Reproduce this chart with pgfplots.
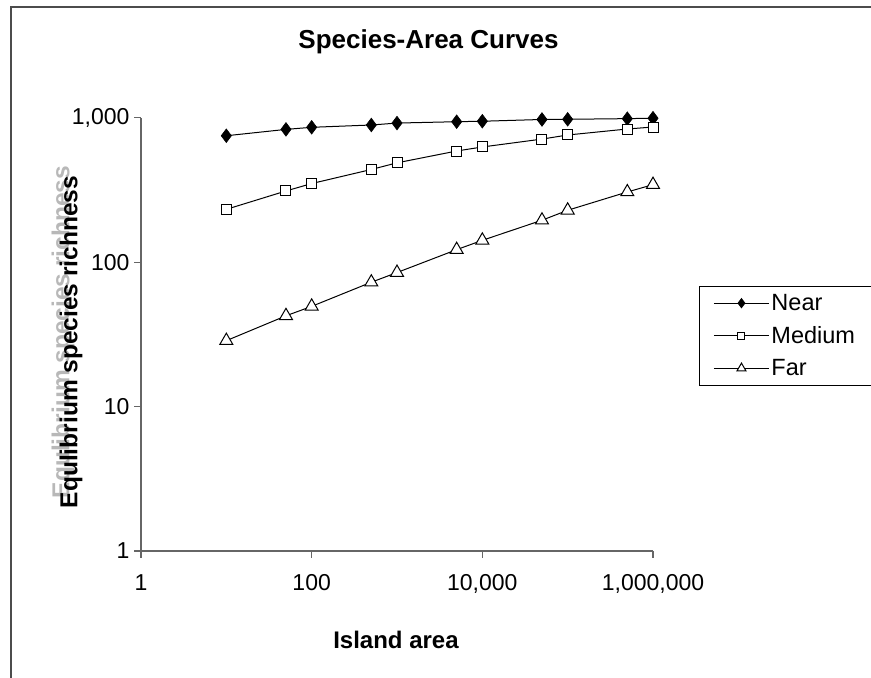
\documentclass[border=0pt]{standalone}
\usepackage{fontspec}
\setmainfont{Liberation Sans}
\usepackage{pgfplots}
\pgfplotsset{compat=1.18}

% x = island area, y = equilibrium species richness
\pgfplotstableread{
x       near  medium  far
10      750   232     28.6
50      830   311     42.5
100     858   350     49.4
500     890   438     72.6
1000    918   487     84.7
5000    938   588     122
10000   945   627     141.6
50000   972   711     195
100000  975   759     228.6
500000  985   835     306
1000000 992   862     344
}\speciesarea

\begin{document}
\begin{tikzpicture}
\path[use as bounding box] (0pt,0pt) rectangle (871pt,678pt);
% chart-area frame (only top and left visible)
\draw[black!70, line width=1.6pt] (11pt,-5pt) -- (11pt,671pt) -- (880pt,671pt);
% title
\node[font=\fontsize{26}{30}\selectfont\bfseries, anchor=base] at (428.5pt,629.5pt) {Species-Area Curves};
% axis labels
\node[font=\fontsize{24.5}{28}\selectfont\bfseries, text=black!28, rotate=90] at (63pt,346pt) {Equlibrium species richness};
\node[font=\fontsize{24.5}{28}\selectfont\bfseries, rotate=90] at (71pt,336pt) {Equlibrium species richness};
\node[font=\fontsize{24}{28}\selectfont\bfseries] at (396pt,38pt) {Island area};

\begin{axis}[
    at={(141pt,127pt)}, anchor=south west,
    scale only axis, width=512pt, height=433.3pt,
    xmode=log, ymode=log,
    xmin=1, xmax=1000000, ymin=1, ymax=1000,
    xtick={1,100,10000,1000000},
    xticklabels={1,100,{10,000},{1,000,000}},
    ytick={1,10,100,1000},
    yticklabels={1,10,100,{1,000}},
    minor tick length=0pt,
    axis x line*=bottom, axis y line*=left,
    axis line style={black!60, line width=1.5pt},
    tick align=outside, major tick length=7pt,
    every tick/.style={black!60, line width=1.2pt},
    tick label style={font=\fontsize{23}{27}\selectfont},
    xticklabel style={yshift=-13pt},
    yticklabel style={xshift=-1pt},
    clip=false,
    legend style={at={(axis description cs:1.0898,0.612)}, anchor=north west,
        draw=black, line width=1pt, font=\fontsize{23.5}{28}\selectfont,
        inner xsep=14pt, inner ysep=6pt, row sep=10.5pt, cells={anchor=west}},
    legend image code/.code={
        \draw[mark repeat=2,mark phase=2,#1,every mark/.append style={scale=0.7}]
            plot coordinates {(0pt,0pt) (27.5pt,0pt) (55pt,0pt)};
    },
]
\addplot[black, line width=1pt, mark=diamond*, mark size=6.8pt,
    mark options={fill=black, draw=black, line width=0.6pt}]
    table[x=x, y=near] {\speciesarea};
\addlegendentry{Near}
\addplot[black, line width=1pt, mark=square*, mark size=5pt,
    mark options={fill=white, draw=black, line width=1pt}]
    table[x=x, y=medium] {\speciesarea};
\addlegendentry{Medium}
\addplot[black, line width=1pt, mark=triangle*, mark size=7.5pt,
    mark options={fill=white, draw=black, line width=1pt}]
    table[x=x, y=far] {\speciesarea};
\addlegendentry{Far}
\end{axis}
\end{tikzpicture}
\end{document}
